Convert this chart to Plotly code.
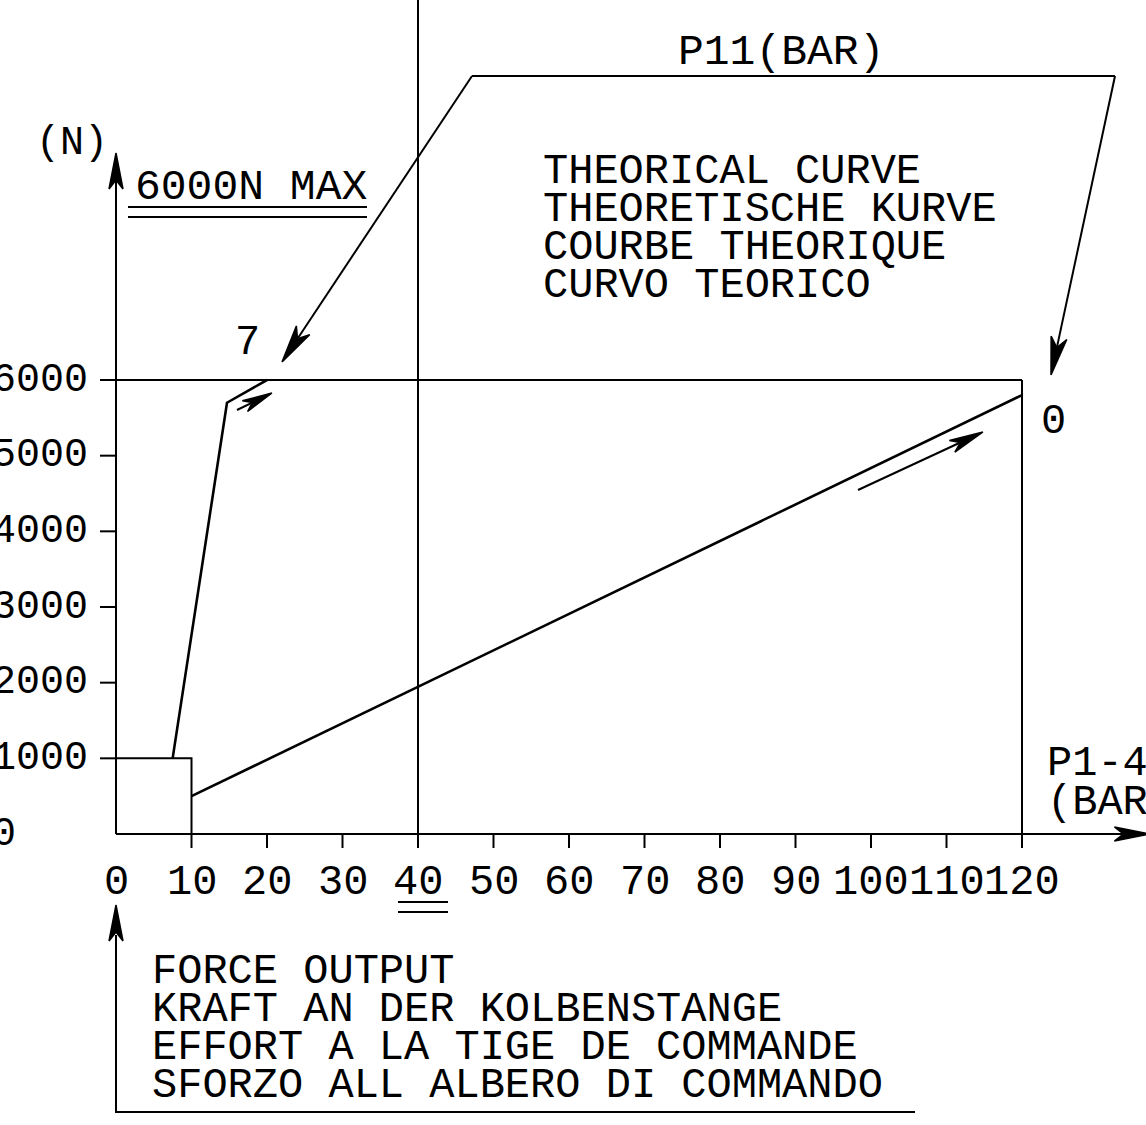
import math
import plotly.graph_objects as go

# ---------------- data ----------------
x_tick_vals = [0, 10, 20, 30, 40, 50, 60, 70, 80, 90, 100, 110, 120]
x_tick_labels = ["0", "10", "20", "30", "40", "50", "60", "70", "80", "90", "100", "110", "120"]
y_tick_vals = [0, 1000, 2000, 3000, 4000, 5000, 6000]
y_tick_labels = ["0", "1000", "2000", "3000", "4000", "5000", "6000"]

# curve for P11 = 0 bar
curve0_pressure = [10, 120]
curve0_force = [500, 5800]
# curve for P11 = 7 bar
curve7_pressure = [7.5, 14.7, 20]
curve7_force = [1000, 5700, 6000]

F_MAX = 6000
P_MAX = 120
P_MARK = 40
F_BOX = 1000
P_BOX = 10

# ---------------- geometry / scales ----------------
W, H = 1146, 1125
X0, XS = 116, 7.55          # pixel of P=0, px per bar
Y0, YS = 834, 0.075667      # pixel of F=0, px per N

xr = [(0 - X0) / XS, (W - X0) / XS]
yr = [(Y0 - H) / YS, Y0 / YS]


def dx(p):
    return p / XS


def dy(p):
    return p / YS


def xd(px):
    return (px - X0) / XS


def yd(py):
    return (Y0 - py) / YS


FONT = "Liberation Mono"
BLACK = "#000000"

thin_x, thin_y = [], []


def seg(xs, ys):
    thin_x.extend(list(xs) + [None])
    thin_y.extend(list(ys) + [None])


head_x, head_y = [], []


def arrow(x1, y1, x2, y2, L=36, w=7, n=9, shaft=True):
    ux, uy = (x2 - x1) * XS, (y2 - y1) * YS
    d = math.hypot(ux, uy)
    ux, uy = ux / d, uy / d
    px_, py_ = -uy, ux
    bx, by = -L * ux, -L * uy
    pts = [
        (0, 0),
        (bx + w * px_, by + w * py_),
        (-(L - n) * ux, -(L - n) * uy),
        (bx - w * px_, by - w * py_),
        (0, 0),
    ]
    for ox, oy in pts:
        head_x.append(x2 + ox / XS)
        head_y.append(y2 + oy / YS)
    head_x.append(None)
    head_y.append(None)
    if shaft:
        seg([x1, x2 - (L - n) * ux / XS], [y1, y2 - (L - n) * uy / YS])


# axes
seg([0, 0], [0, 9000 - dy(20)])
seg([0, 137 - dx(20)], [0, 0])
arrow(0, 8000, 0, 9000, shaft=False)
arrow(130, 0, 137, 0, shaft=False)
# ticks
for v in y_tick_vals[1:]:
    seg([-dx(16), 0], [v, v])
for v in x_tick_vals[1:]:
    seg([v, v], [0, -dy(14)])
# frame lines
seg([0, P_MAX], [F_MAX, F_MAX])
seg([P_MAX, P_MAX], [0, F_MAX])
seg([0, P_BOX, P_BOX], [F_BOX, F_BOX, 0])
seg([P_MARK, P_MARK], [0, yr[1] + 100])
# double underline 6000N MAX
seg([xd(128), xd(367)], [yd(207), yd(207)])
seg([xd(128), xd(367)], [yd(217), yd(217)])
# double underline under 40
seg([xd(398), xd(448)], [yd(902), yd(902)])
seg([xd(398), xd(448)], [yd(912), yd(912)])
# callout
cl_x = [xd(472), xd(1115)]
cl_y = [yd(76), yd(76)]
seg(cl_x, cl_y)
arrow(xd(472), yd(76), xd(282), yd(362), L=38, w=8, n=10)
arrow(xd(1115), yd(76), xd(1051), yd(375), L=38, w=8, n=10)
# direction arrows
arrow(xd(237), yd(410), xd(272), yd(393), L=30, w=6, n=8)
arrow(xd(858), yd(490), xd(983), yd(432), L=34, w=6.5, n=9)
# bottom legend frame
seg([0, 0, xd(915)], [yd(905) - dy(30), yd(1112), yd(1112)])
arrow(0, yd(960), 0, yd(905), shaft=False)

fig = go.Figure()
fig.add_trace(go.Scatter(x=thin_x, y=thin_y, mode="lines",
                         line=dict(color=BLACK, width=2), hoverinfo="skip"))
fig.add_trace(go.Scatter(x=head_x, y=head_y, mode="lines", fill="toself",
                         fillcolor=BLACK, line=dict(color=BLACK, width=1.5),
                         hoverinfo="skip"))
fig.add_trace(go.Scatter(x=curve0_pressure, y=curve0_force, mode="lines",
                         line=dict(color=BLACK, width=2.6), name="P11 = 0"))
fig.add_trace(go.Scatter(x=curve7_pressure, y=curve7_force, mode="lines",
                         line=dict(color=BLACK, width=2.6), name="P11 = 7"))

ann = []


def text(t, x, y, size=42, xanchor="left", xref="x"):
    ann.append(dict(text=t, x=x, y=y, xref=xref, yref="y", showarrow=False,
                    xanchor=xanchor, yanchor="middle",
                    font=dict(family=FONT, size=size, color=BLACK)))


for v, lab in zip(x_tick_vals, x_tick_labels):
    text(lab, v, yd(883), size=42, xanchor="center")
for v, lab in zip(y_tick_vals, y_tick_labels):
    text(lab, -10 / W, v, size=40, xanchor="left", xref="paper")

text("(N)", xd(110), yd(143), size=40, xanchor="right")
text("6000N MAX", xd(133), yd(187), size=43)
text("P11(BAR)", xd(781), yd(52), size=43, xanchor="center")
for i, t in enumerate(["THEORICAL CURVE", "THEORETISCHE KURVE",
                       "COURBE THEORIQUE", "CURVO TEORICO"]):
    text(t, xd(541), yd(172 + 38 * i), size=42)
text("7", xd(247), yd(343), size=42, xanchor="center")
text("0", xd(1053), yd(422), size=42, xanchor="center")
text("P1-4", xd(1045), yd(764), size=42)
text("(BAR)", xd(1045), yd(803), size=42)
for i, t in enumerate(["FORCE OUTPUT", "KRAFT AN DER KOLBENSTANGE",
                       "EFFORT A LA TIGE DE COMMANDE",
                       "SFORZO ALL ALBERO DI COMMANDO"]):
    text(t, xd(150), yd(972 + 38 * i), size=42)

fig.update_layout(
    width=W, height=H,
    margin=dict(l=0, r=0, t=0, b=0),
    paper_bgcolor="white", plot_bgcolor="white",
    showlegend=False,
    xaxis=dict(range=xr, visible=False, fixedrange=True),
    yaxis=dict(range=yr, visible=False, fixedrange=True),
    annotations=ann,
)
fig.write_html(
    "out.html",
    config={"displayModeBar": False},
    post_script="document.body.style.margin='0';document.body.style.overflow='hidden';",
)
